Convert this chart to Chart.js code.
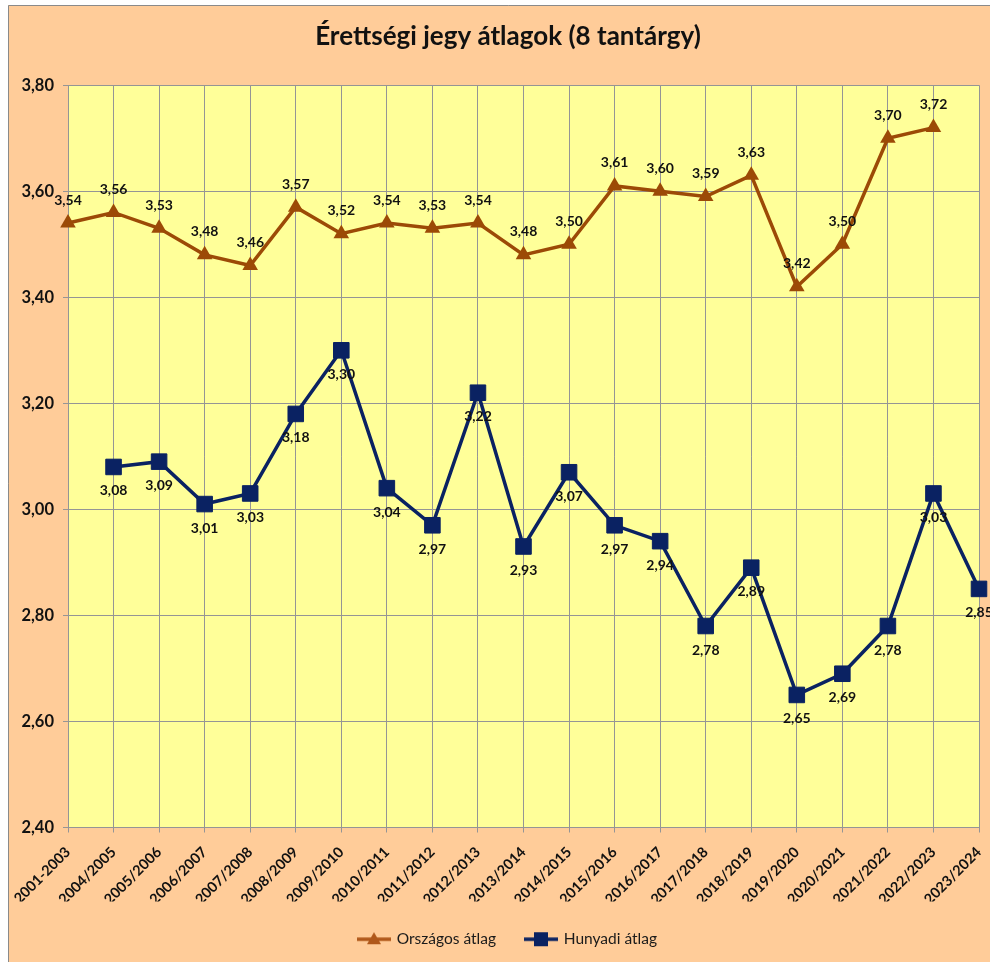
<!DOCTYPE html>
<html><head><meta charset="utf-8">
<script src="https://cdn.jsdelivr.net/npm/chart.js@4.4.0/dist/chart.umd.min.js"></script>
<style>
html,body{margin:0;padding:0;overflow:hidden;background:#fff;width:990px;height:962px}
#wrap{position:absolute;left:0;top:0;width:1008px;height:962px}
</style>
</head><body><div id="wrap"><canvas id="c" width="1008" height="962"></canvas></div>
<script>
const categories = ["2001-2003","2004/2005","2005/2006","2006/2007","2007/2008","2008/2009","2009/2010","2010/2011","2011/2012","2012/2013","2013/2014","2014/2015","2015/2016","2016/2017","2017/2018","2018/2019","2019/2020","2020/2021","2021/2022","2022/2023","2023/2024"];
const orszagos = [3.54,3.56,3.53,3.48,3.46,3.57,3.52,3.54,3.53,3.54,3.48,3.50,3.61,3.60,3.59,3.63,3.42,3.50,3.70,3.72,null];
const hunyadi = [null,3.08,3.09,3.01,3.03,3.18,3.30,3.04,2.97,3.22,2.93,3.07,2.97,2.94,2.78,2.89,2.65,2.69,2.78,3.03,2.85];
const yMin = 2.4, yMax = 3.8, yStep = 0.2;

const FONT = "Lato, 'Open Sans', sans-serif";
const ORANGE = '#9C4A06';
const NAVY = '#0A2262';
const GRID = '#959595';
const fmt = v => v.toFixed(2).replace('.', ',');

function legendImg(kind, color){
  const c = document.createElement('canvas');
  c.width = 34; c.height = 18;
  const x = c.getContext('2d');
  x.strokeStyle = color; x.lineWidth = 3.5;
  x.beginPath(); x.moveTo(0, 9); x.lineTo(34, 9); x.stroke();
  x.fillStyle = color;
  if (kind === 'tri') {
    x.beginPath(); x.moveTo(17, 2); x.lineTo(24, 14); x.lineTo(10, 14); x.closePath(); x.fill();
  } else {
    x.fillRect(10, 2, 14, 14);
  }
  return c;
}
const legendImgs = [legendImg('tri', '#B0581A'), legendImg('sq', NAVY)];

const bgPlugin = {
  id: 'bg',
  beforeDraw(chart){
    const ctx = chart.ctx, a = chart.chartArea;
    ctx.save();
    ctx.fillStyle = '#fff';
    ctx.fillRect(0, 0, chart.width, chart.height);
    ctx.fillStyle = '#FFCC99';
    ctx.fillRect(8, 5, chart.width - 8, chart.height - 5);
    ctx.strokeStyle = '#8a8a8a'; ctx.lineWidth = 1;
    ctx.beginPath(); ctx.moveTo(8.5, chart.height); ctx.lineTo(8.5, 5.5); ctx.lineTo(chart.width, 5.5); ctx.stroke();
    ctx.fillStyle = '#FFFF99';
    ctx.fillRect(a.left, a.top, a.right - a.left, a.bottom - a.top);
    ctx.restore();
  }
};

const labelPlugin = {
  id: 'vlabels',
  afterDatasetsDraw(chart){
    const ctx = chart.ctx;
    ctx.save();
    ctx.font = "bold 14px " + FONT;
    ctx.fillStyle = '#111';
    ctx.textAlign = 'center';
    ctx.textBaseline = 'middle';
    chart.data.datasets.forEach((ds, i) => {
      const meta = chart.getDatasetMeta(i);
      meta.data.forEach((pt, j) => {
        const v = ds.data[j];
        if (v == null) return;
        const dy = i === 0 ? -23 : 24;
        ctx.fillText(fmt(v), pt.x, pt.y + dy);
      });
    });
    ctx.restore();
  }
};

new Chart(document.getElementById('c'), {
  type: 'line',
  data: {
    labels: categories,
    datasets: [
      {
        label: 'Országos átlag',
        data: orszagos,
        borderColor: ORANGE,
        backgroundColor: ORANGE,
        borderWidth: 3.5,
        pointStyle: 'triangle',
        pointRadius: 9,
        pointBorderWidth: 0,
        pointHoverRadius: 9,
        tension: 0,
        clip: false
      },
      {
        label: 'Hunyadi átlag',
        data: hunyadi,
        borderColor: NAVY,
        backgroundColor: NAVY,
        borderWidth: 3.5,
        pointStyle: 'rect',
        pointRadius: 11,
        pointBorderWidth: 1,
        pointHoverRadius: 11,
        tension: 0,
        clip: false
      }
    ]
  },
  options: {
    responsive: false,
    animation: false,
    events: [],
    layout: { padding: { left: 8, top: 5, right: 0, bottom: 5 } },
    plugins: {
      title: {
        display: true,
        text: 'Érettségi jegy átlagok (8 tantárgy)',
        color: '#111',
        font: { family: FONT, size: 26, weight: 'bold' },
        padding: { top: 16, bottom: 33 }
      },
      legend: {
        position: 'bottom',
        labels: {
          usePointStyle: true,
          pointStyleWidth: 30,
          padding: 30,
          color: '#1a1a1a',
          font: { family: FONT, size: 15.5 },
          generateLabels(chart){
            const items = Chart.defaults.plugins.legend.labels.generateLabels(chart);
            items.forEach((it, i) => { it.pointStyle = legendImgs[i]; });
            return items;
          }
        }
      },
      tooltip: { enabled: false }
    },
    scales: {
      x: {
        offset: false,
        grid: { color: GRID, tickLength: 5, lineWidth: 1 },
        border: { color: GRID },
        ticks: {
          autoSkip: false, maxRotation: 45, minRotation: 45,
          color: '#111', padding: 11,
          font: { family: FONT, size: 14.5, weight: 'bold' }
        },
        afterFit(s){ s.height = 74; }
      },
      y: {
        min: yMin, max: yMax,
        grid: { color: GRID, tickLength: 5, lineWidth: 1 },
        border: { color: GRID },
        ticks: {
          stepSize: yStep, color: '#111', padding: 9,
          font: { family: FONT, size: 16.5, weight: 'bold' },
          callback: v => fmt(v)
        },
        afterFit(s){ s.width = 60; }
      },
      y2: {
        position: 'right',
        display: true,
        grid: { display: false },
        border: { display: false },
        ticks: { display: false },
        afterFit(s){ s.width = 29; }
      }
    }
  },
  plugins: [bgPlugin, labelPlugin]
});
</script>
</body></html>
